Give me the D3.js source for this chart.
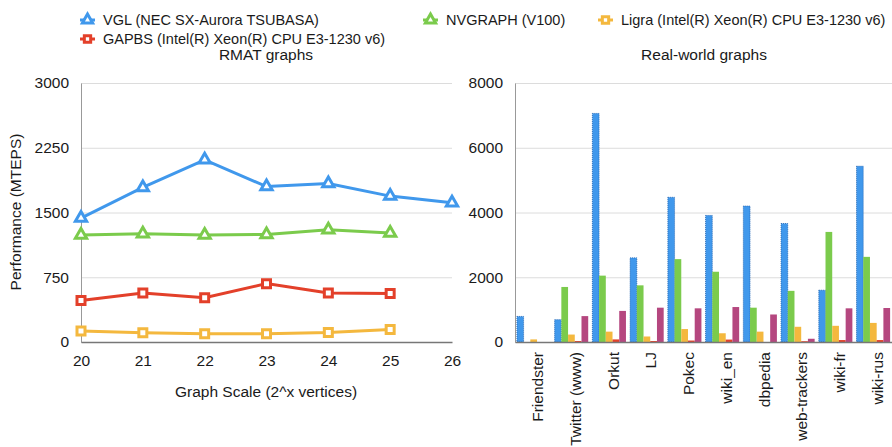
<!DOCTYPE html>
<html>
<head>
<meta charset="utf-8">
<script src="https://cdn.jsdelivr.net/npm/d3@7"></script>
<style>
    body { margin: 0; background: #fff; }
    svg { font-family: "Liberation Sans", Arial, Helvetica, sans-serif; }
</style>
</head>
<body>
<div id="svg-container"></div>
<script>
const w = 892;
const h = 447;

// RMAT graphs (left)
const scales = [20, 21, 22, 23, 24, 25, 26];
const vglRmat = [1435, 1790, 2110, 1800, 1835, 1690, 1612];
const nvgraphRmat = [1238, 1254, 1238, 1246, 1300, 1262];
const gapbsRmat = [481, 568, 512, 676, 568, 562];
const ligraRmat = [127, 108, 97, 97, 110, 146];
const rmatTicks = [0, 750, 1500, 2250, 3000];

// Real-world graphs (right)
const graphs = ["Friendster", "Twitter (www)", "Orkut", "LJ", "Pokec", "wiki_en", "dbpedia", "web-trackers", "wiki-fr", "wiki-rus"];
const vglReal = [790, 690, 7060, 2600, 4470, 3910, 4200, 3660, 1600, 5430];
const nvgraphReal = [0, 1700, 2050, 1750, 2560, 2170, 1060, 1580, 3400, 2630];
const ligraReal = [80, 230, 320, 170, 400, 270, 320, 470, 500, 590];
const gapbsReal = [0, 30, 80, 30, 45, 75, 0, 25, 60, 60];
const unlabeledReal = [0, 800, 960, 1060, 1040, 1080, 850, 100, 1040, 1050];
const realTicks = [0, 2000, 4000, 6000, 8000];

const legendNames = ["VGL (NEC SX-Aurora TSUBASA)", "NVGRAPH (V100)", "Ligra (Intel(R) Xeon(R) CPU E3-1230 v6)", "GAPBS (Intel(R) Xeon(R) CPU E3-1230 v6)"];

const blue = "#4098ec", green = "#7bcb4c", yellow = "#f4b83e", red = "#e3402a", magenta = "#b5477f";

const svg = d3.select("#svg-container")
    .append("svg")
    .attr("width", w)
    .attr("height", h);

// ---------- legend ----------
const legend = [
    {name: legendNames[0], color: blue, shape: d3.symbolTriangle, x: 80, y: 20},
    {name: legendNames[1], color: green, shape: d3.symbolTriangle, x: 423, y: 20},
    {name: legendNames[2], color: yellow, shape: d3.symbolSquare, x: 598, y: 20},
    {name: legendNames[3], color: red, shape: d3.symbolSquare, x: 80, y: 39}
];

const lg = svg.selectAll(".legend")
    .data(legend)
    .enter()
    .append("g")
    .attr("class", "legend")
    .attr("transform", d => "translate(" + d.x + "," + d.y + ")");

lg.append("line")
    .attr("x1", 0).attr("x2", 15)
    .attr("stroke", d => d.color)
    .attr("stroke-width", 3);

lg.append("path")
    .attr("transform", "translate(7.5,0)")
    .attr("d", d => d3.symbol().type(d.shape).size(d.shape === d3.symbolTriangle ? 45 : 40)())
    .attr("fill", "#fff")
    .attr("stroke", d => d.color)
    .attr("stroke-width", 3);

lg.append("text")
    .attr("x", 23)
    .attr("dy", "0.35em")
    .style("font-size", "14.5px")
    .attr("fill", "#1a1a1a")
    .text(d => d.name);

// ---------- left chart ----------
const xScale = d3.scaleLinear()
    .domain([20, 26])
    .range([81, 452]);

const yScale = d3.scaleLinear()
    .domain([0, 3000])
    .range([342, 83]);

svg.append("g")
    .attr("class", "grid")
    .attr("transform", "translate(81,0)")
    .call(d3.axisLeft(yScale).tickValues(rmatTicks).tickSize(-(452 - 81)).tickFormat(""))
    .call(g => g.select(".domain").remove())
    .call(g => g.selectAll("line").attr("stroke", "#dcdcdc"));

svg.append("g")
    .attr("id", "y-axis")
    .attr("transform", "translate(81,0)")
    .call(d3.axisLeft(yScale).tickValues(rmatTicks).tickFormat(d3.format("d")).tickSize(0).tickPadding(12))
    .call(g => g.select(".domain").attr("stroke", "#999"))
    .call(g => g.selectAll("text").style("font-size", "15.5px").attr("fill", "#1a1a1a"));

svg.append("g")
    .attr("id", "x-axis")
    .attr("transform", "translate(0,342)")
    .call(d3.axisBottom(xScale).tickValues(scales).tickFormat(d3.format("d")).tickSize(0).tickPadding(13))
    .call(g => g.select(".domain").attr("stroke", "#777").attr("stroke-width", 1.5))
    .call(g => g.selectAll("text").style("font-size", "15.5px").attr("fill", "#1a1a1a"));

svg.append("text")
    .attr("x", 266)
    .attr("y", 60)
    .attr("text-anchor", "middle")
    .style("font-size", "15.5px")
    .attr("fill", "#1a1a1a")
    .text("RMAT graphs");

svg.append("text")
    .attr("x", 266)
    .attr("y", 397)
    .attr("text-anchor", "middle")
    .style("font-size", "15.5px")
    .attr("fill", "#1a1a1a")
    .text("Graph Scale (2^x vertices)");

svg.append("text")
    .attr("transform", "translate(21,212) rotate(-90)")
    .attr("text-anchor", "middle")
    .style("font-size", "15.5px")
    .attr("fill", "#1a1a1a")
    .text("Performance (MTEPS)");

const lines = [
    {values: ligraRmat, color: yellow, shape: d3.symbolSquare},
    {values: gapbsRmat, color: red, shape: d3.symbolSquare},
    {values: nvgraphRmat, color: green, shape: d3.symbolTriangle},
    {values: vglRmat, color: blue, shape: d3.symbolTriangle}
];

const line = d3.line()
    .x((d, i) => xScale(scales[i]))
    .y(d => yScale(d));

lines.forEach(s => {
    svg.append("path")
        .attr("d", line(s.values))
        .attr("fill", "none")
        .attr("stroke", s.color)
        .attr("stroke-width", 3);

    svg.selectAll(null)
        .data(s.values)
        .enter()
        .append("path")
        .attr("transform", (d, i) => "translate(" + xScale(scales[i]) + "," + yScale(d) + ")")
        .attr("d", d3.symbol().type(s.shape).size(s.shape === d3.symbolTriangle ? 55 : 64)())
        .attr("fill", "#fff")
        .attr("stroke", s.color)
        .attr("stroke-width", 3);
});

// ---------- right chart ----------
const series = [
    {values: vglReal, color: blue},
    {values: nvgraphReal, color: green},
    {values: ligraReal, color: yellow},
    {values: gapbsReal, color: red},
    {values: unlabeledReal, color: magenta}
];

const x0 = d3.scaleBand()
    .domain(graphs)
    .range([515, 892])
    .paddingInner(0.11)
    .paddingOuter(0.05);

const x1 = d3.scaleBand()
    .domain(d3.range(series.length))
    .range([0, x0.bandwidth()]);

const yReal = d3.scaleLinear()
    .domain([0, 8000])
    .range([342, 83]);

svg.append("g")
    .attr("class", "grid")
    .attr("transform", "translate(515,0)")
    .call(d3.axisLeft(yReal).tickValues(realTicks).tickSize(-(892 - 515)).tickFormat(""))
    .call(g => g.select(".domain").remove())
    .call(g => g.selectAll("line").attr("stroke", "#dcdcdc"));

series.forEach((s, k) => {
    svg.selectAll(null)
        .data(s.values)
        .enter()
        .append("rect")
        .attr("x", (d, i) => x0(graphs[i]) + x1(k))
        .attr("y", d => yReal(d))
        .attr("width", x1.bandwidth())
        .attr("height", d => 342 - yReal(d))
        .attr("fill", s.color)
        .attr("stroke", k === 0 ? "#1d5fae" : "none")
        .attr("stroke-width", 0.8)
        .attr("stroke-dasharray", "1,1");
});

svg.append("g")
    .attr("transform", "translate(515,0)")
    .call(d3.axisLeft(yReal).tickValues(realTicks).tickFormat(d3.format("d")).tickSize(0).tickPadding(12))
    .call(g => g.select(".domain").attr("stroke", "#999"))
    .call(g => g.selectAll("text").style("font-size", "15.5px").attr("fill", "#1a1a1a"));

svg.append("g")
    .attr("transform", "translate(0,342)")
    .call(d3.axisBottom(x0).tickSize(0).tickFormat(""))
    .call(g => g.select(".domain").attr("stroke", "#777").attr("stroke-width", 1.5));

svg.selectAll(".cat")
    .data(graphs)
    .enter()
    .append("text")
    .attr("class", "cat")
    .attr("transform", d => "translate(" + (x0(d) + x0.bandwidth() / 2 + 4) + ",352) rotate(-90)")
    .attr("text-anchor", "end")
    .attr("dy", "0.35em")
    .style("font-size", "15.5px")
    .attr("fill", "#1a1a1a")
    .text(d => d);

svg.append("text")
    .attr("x", 704)
    .attr("y", 60)
    .attr("text-anchor", "middle")
    .style("font-size", "15.5px")
    .attr("fill", "#1a1a1a")
    .text("Real-world graphs");
</script>
</body>
</html>
